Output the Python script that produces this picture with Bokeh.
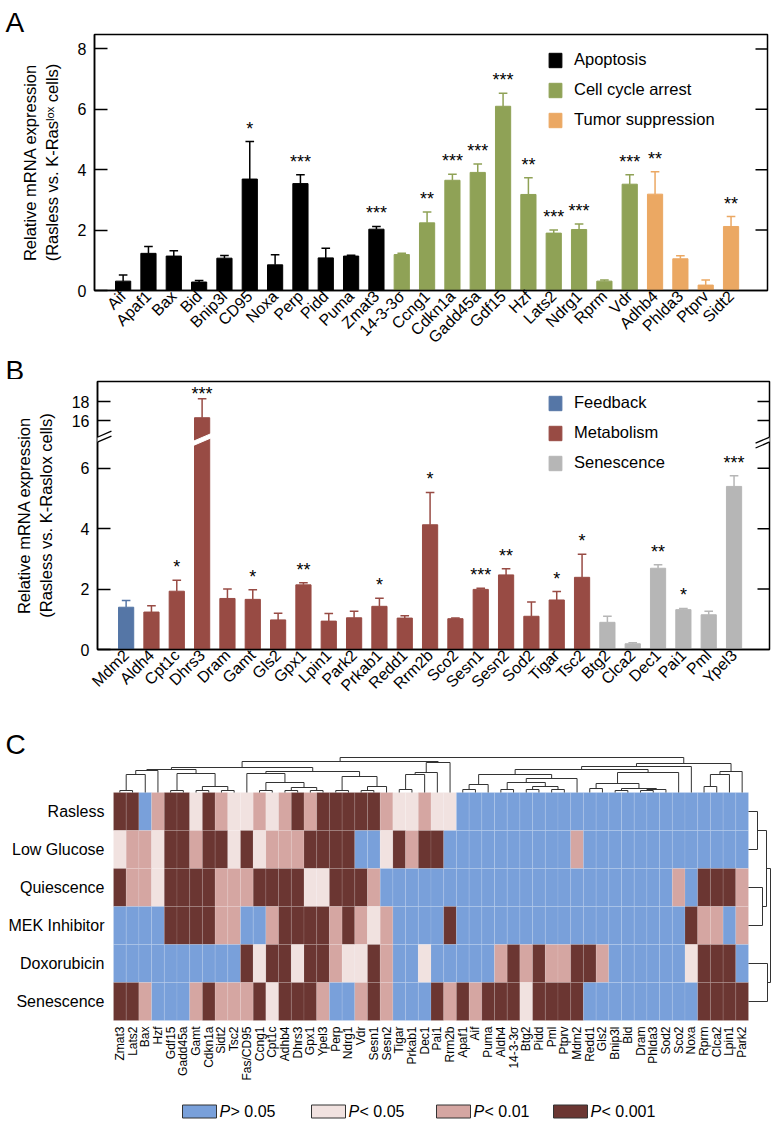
import math
from bokeh.plotting import figure
from bokeh.models import (Range1d, FixedTicker, Legend, LegendItem,
                          ColumnDataSource, Arrow, PolyAnnotation)
from bokeh.layouts import column
from bokeh.embed import file_html
from bokeh.resources import INLINE
from bokeh.core.properties import value

FONT = "Liberation Sans"

# ---------------- Panel A data ----------------
A_GENES = ["Aif", "Apaf1", "Bax", "Bid", "Bnip3l", "CD95", "Noxa", "Perp", "Pidd", "Puma", "Zmat3",
           "14-3-3σ", "Ccng1", "Cdkn1a", "Gadd45a", "Gdf15", "Hzf", "Lats2", "Ndrg1", "Rprm", "Vdr",
           "Adhb4", "Phlda3", "Ptprv", "Sidt2"]
A_GROUP = ["Apoptosis"] * 11 + ["Cell cycle arrest"] * 10 + ["Tumor suppression"] * 4
A_VALUES = [0.31, 1.23, 1.14, 0.28, 1.07, 3.69, 0.85, 3.54, 1.08, 1.14, 2.03,
            1.19, 2.24, 3.65, 3.91, 6.10, 3.18, 1.90, 2.02, 0.31, 3.52,
            3.19, 1.05, 0.18, 2.12]
A_SEM = [0.20, 0.23, 0.18, 0.05, 0.09, 1.24, 0.33, 0.29, 0.32, 0.03, 0.09,
         0.04, 0.36, 0.20, 0.28, 0.43, 0.55, 0.10, 0.18, 0.04, 0.31,
         0.74, 0.10, 0.17, 0.33]
A_SIG = ["", "", "", "", "", "*", "", "***", "", "", "***",
         "", "**", "***", "***", "***", "**", "***", "***", "", "***",
         "**", "", "", "**"]
A_ORDER = ["Apoptosis", "Cell cycle arrest", "Tumor suppression"]
A_COLORS = {"Apoptosis": "#000000", "Cell cycle arrest": "#8fa256", "Tumor suppression": "#eba863"}

# ---------------- Panel B data ----------------
B_GENES = ["Mdm2", "Aldh4", "Cpt1c", "Dhrs3", "Dram", "Gamt", "Gls2", "Gpx1", "Lpin1", "Park2",
           "Prkab1", "Redd1", "Rrm2b", "Sco2", "Sesn1", "Sesn2", "Sod2", "Tigar", "Tsc2",
           "Btg2", "Clca2", "Dec1", "Pai1", "Pml", "Ypel3"]
B_GROUP = ["Feedback"] + ["Metabolism"] * 18 + ["Senescence"] * 6
B_VALUES = [1.40, 1.24, 1.93, 16.3, 1.69, 1.66, 0.98, 2.14, 0.94, 1.05,
            1.43, 1.04, 4.13, 1.02, 1.99, 2.47, 1.10, 1.64, 2.39,
            0.90, 0.19, 2.69, 1.32, 1.15, 5.40]
B_SEM = [0.22, 0.21, 0.36, 2.0, 0.31, 0.32, 0.22, 0.07, 0.25, 0.22,
         0.27, 0.08, 1.07, 0.02, 0.04, 0.20, 0.47, 0.28, 0.76,
         0.20, 0.03, 0.12, 0.04, 0.12, 0.35]
B_SIG = ["", "", "*", "***", "", "*", "", "**", "", "",
         "*", "", "*", "", "***", "**", "", "*", "*",
         "", "", "**", "*", "", "***"]
B_ORDER = ["Feedback", "Metabolism", "Senescence"]
B_COLORS = {"Feedback": "#5576a6", "Metabolism": "#984b44", "Senescence": "#b6b6b6"}

# ---------------- Panel C data ----------------
C_COLS = ["Zmat3", "Lats2", "Bax", "Hzf", "Gdf15", "Gadd45a", "Gamt", "Cdkn1a", "Sidt2", "Tsc2",
          "Fas/CD95", "Ccng1", "Cpt1c", "Adhb4", "Dhrs3", "Gpx1", "Ypel3", "Perp", "Ndrg1", "Vdr",
          "Sesn1", "Sesn2", "Tigar", "Prkab1", "Dec1", "Pai1", "Rrm2b", "Apaf1", "Aif", "Puma",
          "Aldh4", "14-3-3σ", "Btg2", "Pidd", "Pml", "Ptprv", "Mdm2", "Redd1", "Gls2", "Bnip3l",
          "Bid", "Dram", "Phlda3", "Sod2", "Sco2", "Noxa", "Rprm", "Clca2", "Lpin1", "Park2"]
C_ROWS = ["Rasless", "Low Glucose", "Quiescence", "MEK Inhibitor", "Doxorubicin", "Senescence"]
# 0: P>0.05, 1: P<0.05, 2: P<0.01, 3: P<0.001
C_RASLESS = [3, 3, 0, 2, 3, 3, 1, 3, 2, 1, 1, 2, 1, 2, 3, 2, 3, 3, 3, 3, 3, 2, 1, 1, 2,
             1, 1, 0, 0, 0, 0, 0, 0, 0, 0, 0, 0, 0, 0, 0, 0, 0, 0, 0, 0, 0, 0, 0, 0, 0]
C_LOWGLU = [1, 2, 2, 1, 3, 3, 2, 3, 3, 1, 3, 1, 2, 2, 2, 3, 3, 3, 3, 0, 0, 1, 3, 2, 3,
            3, 0, 0, 0, 0, 0, 0, 0, 0, 0, 0, 2, 0, 0, 0, 0, 0, 0, 0, 0, 0, 0, 0, 0, 0]
C_QUIES = [3, 2, 2, 1, 3, 3, 3, 3, 2, 2, 2, 3, 3, 3, 3, 1, 1, 3, 3, 3, 2, 0, 0, 0, 0,
           0, 0, 0, 0, 0, 0, 0, 0, 0, 0, 0, 0, 0, 0, 0, 0, 0, 0, 0, 2, 0, 3, 3, 3, 2]
C_MEK = [0, 0, 0, 0, 3, 3, 3, 3, 2, 2, 0, 0, 2, 3, 3, 3, 3, 2, 3, 2, 1, 2, 0, 0, 0,
         0, 3, 0, 0, 0, 0, 0, 0, 0, 0, 0, 0, 0, 0, 0, 0, 0, 0, 0, 0, 3, 2, 2, 0, 2]
C_DOXO = [0, 0, 0, 0, 0, 0, 0, 0, 0, 0, 3, 1, 3, 3, 1, 3, 3, 2, 1, 1, 3, 2, 0, 0, 1,
          0, 0, 0, 0, 0, 2, 3, 2, 3, 2, 2, 3, 3, 2, 0, 0, 0, 0, 0, 0, 1, 3, 3, 3, 0]
C_SENES = [3, 3, 2, 0, 0, 0, 2, 3, 2, 2, 2, 3, 1, 3, 3, 3, 2, 0, 0, 2, 3, 2, 0, 0, 0,
           3, 2, 3, 2, 3, 3, 3, 1, 3, 3, 3, 3, 0, 0, 0, 0, 0, 0, 0, 0, 0, 3, 3, 3, 3]
C_MATRIX = [C_RASLESS, C_LOWGLU, C_QUIES, C_MEK, C_DOXO, C_SENES]
C_PALETTE = ["#79a0da", "#f1e2e0", "#d5a6a2", "#6b3632"]
C_LEG_TEXT = ["> 0.05", "< 0.05", "< 0.01", "< 0.001"]

# dendrograms: [left, right, merge height in px]
TOP_A = [[[0, 1, 2], 2, 18], 3, 22]
TOP_B = [[4, 5, 2], [[6, 7, 2], [8, 9, 2], 6], 19]
TOP_C1 = [10, [[11, 12, 2], [[13, 14, 2], [15, 16, 2], 5], 10], 19]
TOP_C2 = [[17, 18, 2], [[19, 20, 2], 21, 6], 16]
TOP_D = [[[[22, 23, 3], 24, 18], 25, 20], 26, 30]
TOP_L = [[[TOP_A, TOP_B, 23], [TOP_C1, TOP_C2, 21], 25], TOP_D, 31]
TOP_W = [[27, 28, 3], 29, 8]
TOP_Y1 = [[[30, 31, 3], [[32, 33, 3], [34, 35, 3], 6], 10], 36, 14]
TOP_Z = [[[37, 38, 4], [[39, 40, 2], [[41, 42, 2], 43, 3], 4], 9], 44, 20]
TOP_Y = [[[TOP_W, TOP_Y1, 18], TOP_Z, 23], 45, 26]
TOP_R3 = [[[46, 47, 6], 48, 18], 49, 21]
TOP_TREE = [TOP_L, [TOP_Y, TOP_R3, 29], 35]
ROW_TREE = [[[0, 1, 9], [2, 3, 14], 18], [4, 5, 19], 22]

# ---------------- helpers ----------------
W = 783
UNIT_Y = 30.2   # px per y unit in bar panels
UNIT_X = 25.33  # px per bar slot


def letter_strip(letter, height, center_from_top):
    """A thin full-frame strip holding a panel letter (px coordinates)."""
    s = figure(width=W, height=height, x_range=Range1d(0, W), y_range=Range1d(0, height),
               output_backend="svg", toolbar_location=None, min_border=0, frame_align=False)
    s.axis.visible = False
    s.grid.visible = False
    s.outline_line_color = None
    s.text(x=[5], y=[height - center_from_top], text=[letter], text_align="left",
           text_baseline="middle", text_font=value(FONT), text_font_size="28px",
           text_color="black")
    return s


def bar_panel(genes, groups, vals, sems, sigs, order, colors, yfun, yticks, overrides,
              b_left, b_right, b_top, b_bottom, fh, ylabel, leg_xy):
    n = len(genes)
    fw = W - b_left - b_right
    x0 = -1.13
    x1 = x0 + fw / UNIT_X
    ymax = fh / UNIT_Y
    H = b_top + fh + b_bottom
    p = figure(frame_width=fw, frame_height=fh, x_range=Range1d(x0, x1), y_range=Range1d(0, ymax),
               output_backend="svg", toolbar_location=None, frame_align=False,
               min_border_left=b_left, min_border_right=b_right,
               min_border_top=b_top, min_border_bottom=b_bottom)
    p.xgrid.visible = False
    p.ygrid.visible = False
    p.outline_line_color = "black"
    p.outline_line_width = 1.5
    items = []
    for g in order:
        idx = [i for i in range(n) if groups[i] == g]
        src = ColumnDataSource(dict(
            x=idx,
            top=[yfun(vals[i]) for i in idx],
            err=[yfun(vals[i] + sems[i]) for i in idx],
            cl=[i - 0.17 for i in idx],
            cr=[i + 0.17 for i in idx],
        ))
        r = p.vbar(x="x", top="top", width=0.6, fill_color=colors[g], line_color=colors[g], source=src)
        p.segment(x0="x", y0="top", x1="x", y1="err", line_color=colors[g], line_width=1.5, source=src)
        p.segment(x0="cl", y0="err", x1="cr", y1="err", line_color=colors[g], line_width=1.5, source=src)
        items.append(LegendItem(label=g, renderers=[r]))
    # significance stars (centred ~17px above the error bar)
    sx = [i for i in range(n) if sigs[i]]
    sy = [min(yfun(vals[i] + sems[i]), ymax - 0.86) for i in sx]
    st = [sigs[i] for i in sx]
    p.text(x=sx, y=sy, text=st, y_offset=-13, text_align="center", text_baseline="middle",
           text_font=value(FONT), text_font_size="18px", text_color="black")
    # inward ticks on the right frame edge
    rt = [t for t in yticks if t > 0]
    p.segment(x0=[x1 - 12 / UNIT_X] * len(rt), y0=rt, x1=[x1] * len(rt), y1=rt,
              line_color="black", line_width=1.5)
    # axes
    p.xaxis.ticker = FixedTicker(ticks=list(range(n)))
    p.xaxis.major_label_overrides = {i: genes[i] for i in range(n)}
    p.xaxis.major_label_orientation = math.pi / 4
    p.xaxis.major_tick_in = 0
    p.xaxis.major_tick_out = 0
    p.xaxis.minor_tick_line_color = None
    p.xaxis.major_label_standoff = 3
    p.xaxis.major_label_text_font = FONT
    p.xaxis.major_label_text_font_size = "16px"
    p.xaxis.major_label_text_color = "black"
    p.xaxis.axis_line_width = 1.5
    p.yaxis.ticker = FixedTicker(ticks=yticks)
    p.yaxis.major_label_overrides = overrides
    p.yaxis.major_tick_in = 13
    p.yaxis.major_tick_out = 0
    p.yaxis.major_tick_line_width = 1.5
    p.yaxis.minor_tick_line_color = None
    p.yaxis.axis_line_width = 1.5
    p.yaxis.major_label_standoff = 8
    p.yaxis.major_label_text_font = FONT
    p.yaxis.major_label_text_font_size = "16px"
    p.yaxis.major_label_text_color = "black"
    p.yaxis.axis_label = ylabel
    p.yaxis.axis_label_text_font = FONT
    p.yaxis.axis_label_text_font_style = "normal"
    p.yaxis.axis_label_text_font_size = "16.5px"
    p.yaxis.axis_label_text_color = "black"
    p.yaxis.axis_label_standoff = 14
    leg = Legend(items=items, location=leg_xy, orientation="vertical",
                 glyph_width=16, glyph_height=18, label_height=18, label_standoff=11,
                 spacing=11, padding=0, margin=0, border_line_alpha=0, background_fill_alpha=0,
                 label_text_font=FONT, label_text_font_size="16.5px", label_text_color="black")
    p.add_layout(leg, "center")
    return p, ymax, H


# ---------------- Panel A ----------------
HDR_A = 32
sa = letter_strip("A", HDR_A, 22)
pa, _, HA = bar_panel(A_GENES, A_GROUP, A_VALUES, A_SEM, A_SIG, A_ORDER, A_COLORS,
                      lambda v: v, [0, 2, 4, 6, 8], {}, 94, 16, 2, 70, 256,
                      "Relative mRNA expression\n(Rasless vs. K-Ras\u02e1\u1d52\u02e3 cells)",
                      (453, 161))

# ---------------- Panel B (broken axis) ----------------
BRK_LO = 7.0
UP_BASE = 7.58
UP_SCALE = 0.315


def yb(v):
    return v if v <= BRK_LO else UP_BASE + (v - 16) * UP_SCALE


HDR_B = 19
sb = letter_strip("B", HDR_B, 10)
b_ticks = [0, 2, 4, 6, yb(16), yb(18)]
b_over = {yb(16): "16", yb(18): "18"}
pb, ymax_b, HB = bar_panel(B_GENES, B_GROUP, B_VALUES, B_SEM, B_SIG, B_ORDER, B_COLORS,
                           yb, b_ticks, b_over, 97, 14, 2, 60, 268,
                           "Relative mRNA expression\n(Rasless vs. K-Raslox cells)",
                           (450, 177))
# break on the tall bar
ib = B_VALUES.index(max(B_VALUES))
BC = 6.95
SL = 0.36
pb.patch(x=[ib - 0.42, ib + 0.42, ib + 0.42, ib - 0.42],
         y=[BC - 0.07 - SL * 0.42, BC - 0.07 + SL * 0.42, BC + 0.07 + SL * 0.42, BC + 0.07 - SL * 0.42],
         fill_color="white", line_color="white", line_width=1)
# break on the axes
xl = pb.x_range.start
xr = pb.x_range.end
for xa in (xl, xr):
    pb.add_layout(PolyAnnotation(xs=[xa - 0.55, xa + 0.55, xa + 0.55, xa - 0.55],
                                 ys=[BC - 0.08 - SL * 0.55, BC - 0.08 + SL * 0.55,
                                     BC + 0.08 + SL * 0.55, BC + 0.08 - SL * 0.55],
                                 fill_color="white", fill_alpha=1, line_alpha=0))
    for d in (-0.08, 0.08):
        pb.add_layout(Arrow(end=None, start=None, x_start=xa - 0.55, y_start=BC + d - SL * 0.55,
                            x_end=xa + 0.55, y_end=BC + d + SL * 0.55,
                            line_color="black", line_width=1.3))

# ---------------- Panel C ----------------
CW = 12.7
RH = 38.0
TOP_C = HDR_A + HA + HDR_B + HB   # page y where panel C starts
HC = 1122 - TOP_C
HM_L = 113                   # heatmap left in canvas px
HM_B = 1020 - TOP_C          # heatmap bottom in canvas px
nc = len(C_COLS)
nr = len(C_ROWS)
x_start = -HM_L / CW
x_end = (W - HM_L) / CW
y_start = -(HC - HM_B) / RH
y_end = HM_B / RH
pc = figure(width=W, height=HC, x_range=Range1d(x_start, x_end), y_range=Range1d(y_start, y_end),
            output_backend="svg", toolbar_location=None, min_border=0, frame_align=False)
pc.axis.visible = False
pc.grid.visible = False
pc.outline_line_color = None

hx, hy, hcol = [], [], []
for r in range(nr):
    for c in range(nc):
        hx.append(c + 0.5)
        hy.append(nr - r - 0.5)
        hcol.append(C_PALETTE[C_MATRIX[r][c]])
pc.rect(x=hx, y=hy, width=1, height=1, fill_color=hcol, line_color="white", line_alpha=0.18,
        line_width=0.6)


def tree_segments(node, leaf_pos, segs):
    if isinstance(node, int):
        return leaf_pos(node), 0.0
    l, r, h = node
    pl, hl = tree_segments(l, leaf_pos, segs)
    pr, hr = tree_segments(r, leaf_pos, segs)
    segs.append((pl, hl, pl, h))
    segs.append((pr, hr, pr, h))
    segs.append((pl, h, pr, h))
    return (pl + pr) / 2.0, h


segs = []
tree_segments(TOP_TREE, lambda k: k + 0.5, segs)
pc.segment(x0=[s[0] for s in segs], y0=[nr + s[1] / RH for s in segs],
           x1=[s[2] for s in segs], y1=[nr + s[3] / RH for s in segs],
           line_color="#333333", line_width=1)
segs = []
tree_segments(ROW_TREE, lambda k: nr - k - 0.5, segs)
pc.segment(x0=[nc + s[1] / CW for s in segs], y0=[s[0] for s in segs],
           x1=[nc + s[3] / CW for s in segs], y1=[s[2] for s in segs],
           line_color="#333333", line_width=1)

pc.text(x=[-9 / CW] * nr, y=[nr - r - 0.5 for r in range(nr)], text=C_ROWS,
        text_align="right", text_baseline="middle", text_font=value(FONT),
        text_font_size="16px", text_color="black")
pc.text(x=[c + 0.5 for c in range(nc)], y=[-6 / RH] * nc, text=C_COLS, angle=math.pi / 2,
        text_align="right", text_baseline="middle", text_font=value(FONT),
        text_font_size="12px", text_color="black")
pc.text(x=[(5 - HM_L) / CW], y=[(HM_B - (744 - TOP_C)) / RH], text=["C"], text_align="left",
        text_baseline="middle", text_font=value(FONT), text_font_size="28px", text_color="black")

# legend for heatmap
LEG_PX = [182, 311, 436, 553]
BOX_W = 34
leg_y = (HM_B - (1111 - TOP_C)) / RH
bx = [(px - HM_L + BOX_W / 2) / CW for px in LEG_PX]
pc.rect(x=bx, y=[leg_y] * 4, width=BOX_W / CW, height=13 / RH, fill_color=C_PALETTE,
        line_color="#333333", line_width=1)
tx = [(px - HM_L + BOX_W + 3) / CW for px in LEG_PX]
pc.text(x=tx, y=[leg_y] * 4, text=["P"] * 4, text_align="left", text_baseline="middle",
        text_font=value(FONT), text_font_style="italic", text_font_size="16px", text_color="black")
pc.text(x=tx, y=[leg_y] * 4, text=C_LEG_TEXT, x_offset=11, text_align="left", text_baseline="middle",
        text_font=value(FONT), text_font_size="16px", text_color="black")

layout = column(sa, pa, sb, pb, pc, spacing=0)
open("out.html", "w").write(file_html(layout, INLINE))
